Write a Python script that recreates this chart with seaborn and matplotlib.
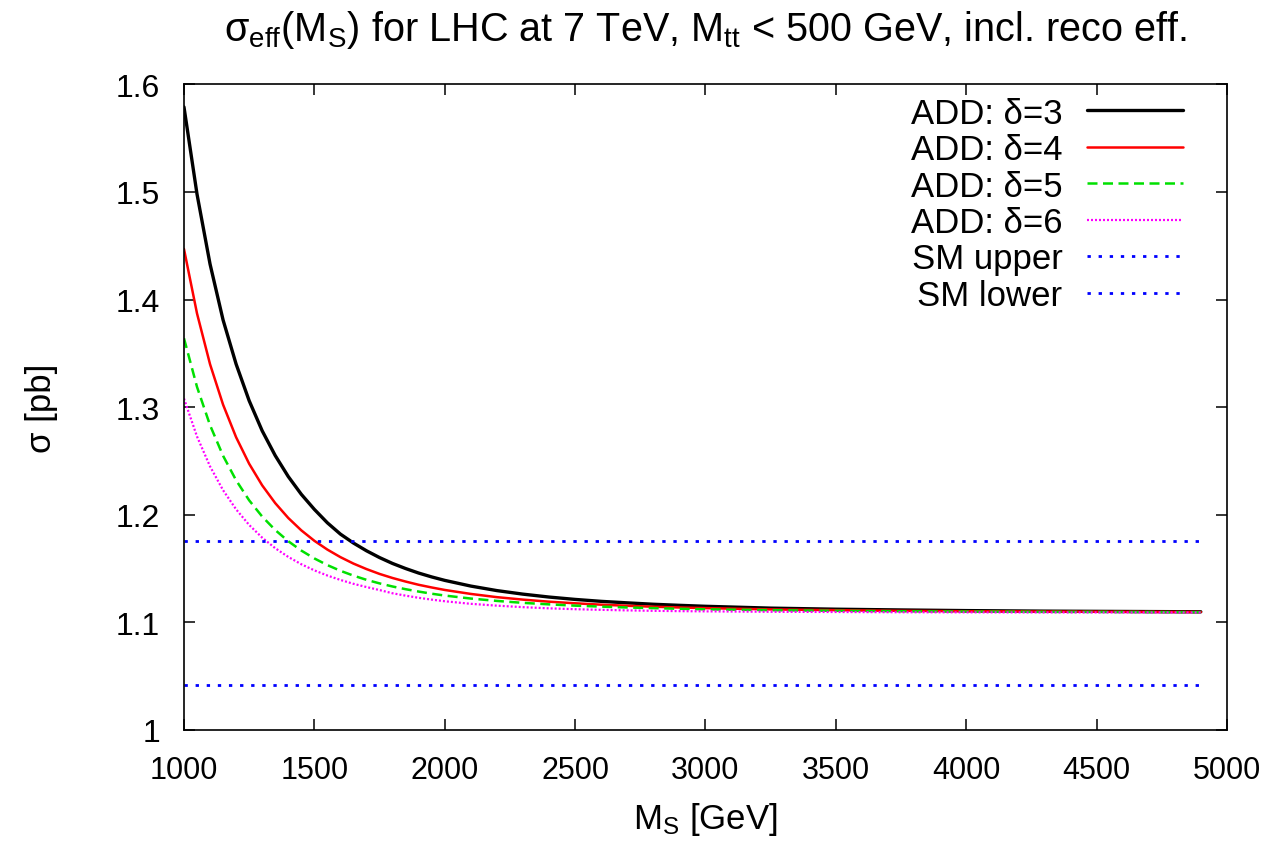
import pandas as pd
import matplotlib.pyplot as plt
import seaborn as sns

# M_S grid [GeV] and sigma_eff values [pb]
ms = [1000, 1050, 1100, 1150, 1200, 1250, 1300, 1350, 1400, 1450, 1500,
      1550, 1600, 1650, 1700, 1750, 1800, 1850, 1900, 1950, 2000,
      2100, 2200, 2300, 2400, 2500, 2600, 2700, 2800, 2900, 3000,
      3250, 3500, 3750, 4000, 4300, 4600, 4900]

add3 = [1.579, 1.498, 1.433, 1.381, 1.340, 1.306, 1.278, 1.255, 1.2355, 1.219, 1.205,
        1.1925, 1.182, 1.1737, 1.1665, 1.1602, 1.1547, 1.150, 1.1458, 1.1422, 1.139,
        1.1337, 1.1295, 1.1262, 1.1235, 1.1213, 1.1195, 1.1181, 1.1168, 1.1158, 1.1149,
        1.1132, 1.1122, 1.1115, 1.1109, 1.1104, 1.1101, 1.1098]
add4 = [1.447, 1.3871, 1.3399, 1.3023, 1.272, 1.2474, 1.2273, 1.2108, 1.197, 1.1855, 1.1758,
        1.1676, 1.1606, 1.1546, 1.1495, 1.145, 1.1412, 1.1379, 1.1349, 1.1324, 1.1301,
        1.1264, 1.1234, 1.1211, 1.1192, 1.1177, 1.1164, 1.1154, 1.1145, 1.1138, 1.1132,
        1.112, 1.1113, 1.1107, 1.1103, 1.110, 1.1098, 1.1096]
add5 = [1.364, 1.3188, 1.2832, 1.2548, 1.232, 1.2134, 1.1983, 1.1858, 1.1754, 1.1667, 1.1594,
        1.1532, 1.1479, 1.1434, 1.1395, 1.1362, 1.1333, 1.1308, 1.1286, 1.1266, 1.1249,
        1.1221, 1.1199, 1.1181, 1.1167, 1.1155, 1.1146, 1.1138, 1.1132, 1.1126, 1.1121,
        1.1113, 1.1107, 1.1103, 1.110, 1.1097, 1.1096, 1.1094]
add6 = [1.308, 1.2727, 1.2449, 1.2228, 1.205, 1.1905, 1.1787, 1.1689, 1.1608, 1.154, 1.1483,
        1.1435, 1.1394, 1.1358, 1.1328, 1.130, 1.127, 1.1248, 1.1228, 1.1211, 1.1196,
        1.1172, 1.1155, 1.1141, 1.113, 1.1122, 1.1116, 1.1111, 1.1107, 1.1104, 1.1102,
        1.1098, 1.1096, 1.1094, 1.1093, 1.1092, 1.1092, 1.1091]

sm_x = [1000, 4900]
sm_upper = [1.176, 1.176]
sm_lower = [1.042, 1.042]

sns.set_style('ticks')
plt.rcParams['font.family'] = ['Liberation Sans', 'DejaVu Sans']
plt.rcParams['mathtext.fontset'] = 'custom'
plt.rcParams['mathtext.rm'] = 'Liberation Sans'
plt.rcParams['mathtext.it'] = 'Liberation Sans:italic'
plt.rcParams['text.color'] = 'black'
plt.rcParams['axes.labelcolor'] = 'black'
plt.rcParams['xtick.color'] = 'black'
plt.rcParams['ytick.color'] = 'black'
plt.rcParams['axes.edgecolor'] = 'black'

fig = plt.figure(figsize=(12.82, 8.45), dpi=100)
ax = fig.add_axes([0.1435, 0.135, 0.8135, 0.764])

series = [
    ('ADD: δ=3', add3, 'black', 2.4, '-'),
    ('ADD: δ=4', add4, '#ff0000', 1.8, '-'),
    ('ADD: δ=5', add5, '#00e000', 1.8, (0, (4, 2.2))),
    ('ADD: δ=6', add6, '#ff00ff', 1.6, (0, (0.9, 0.9))),
]
for name, vals, col, lw, ls in series:
    df = pd.DataFrame({'ms': ms, 'sigma': vals})
    sns.lineplot(data=df, x='ms', y='sigma', ax=ax, color=col, lw=lw,
                 linestyle=ls, label=name)

for name, vals in [('SM upper', sm_upper), ('SM lower', sm_lower)]:
    sns.lineplot(x=sm_x, y=vals, ax=ax, color='#0000ff', lw=2.0,
                 linestyle=(0, (1.2, 2.8)), label=name)

ax.set_xlim(1000, 5000)
ax.set_ylim(1.0, 1.6)
ax.set_xticks(range(1000, 5001, 500))
ax.set_yticks([1.0, 1.1, 1.2, 1.3, 1.4, 1.5, 1.6])
ax.set_yticklabels(['1', '1.1', '1.2', '1.3', '1.4', '1.5', '1.6'])
ax.tick_params(direction='in', length=8, width=1.1, top=True, right=True)
ax.tick_params(axis='x', labelsize=22, pad=18)
ax.tick_params(axis='y', labelsize=23, pad=17)
for s in ax.spines.values():
    s.set_linewidth(1.2)
    s.set_visible(True)

ax.set_xlabel(r'M$_{\rm S}$ [GeV]', fontsize=25, labelpad=11)
ax.set_ylabel('σ [pb]', fontsize=25, labelpad=42)
ax.set_title(r'σ$_{\rm eff}$(M$_{\rm S}$) for LHC at 7 TeV, M$_{\rm tt}$ < 500 GeV, incl. reco eff.',
             fontsize=28.5, pad=32)

ax.legend(loc='upper right', bbox_to_anchor=(0.958, 0.981), frameon=False,
          markerfirst=False, fontsize=25, handlelength=2.77, handletextpad=0.7,
          labelspacing=0.1, borderpad=0, borderaxespad=0)

plt.savefig('out.png', dpi=100)
